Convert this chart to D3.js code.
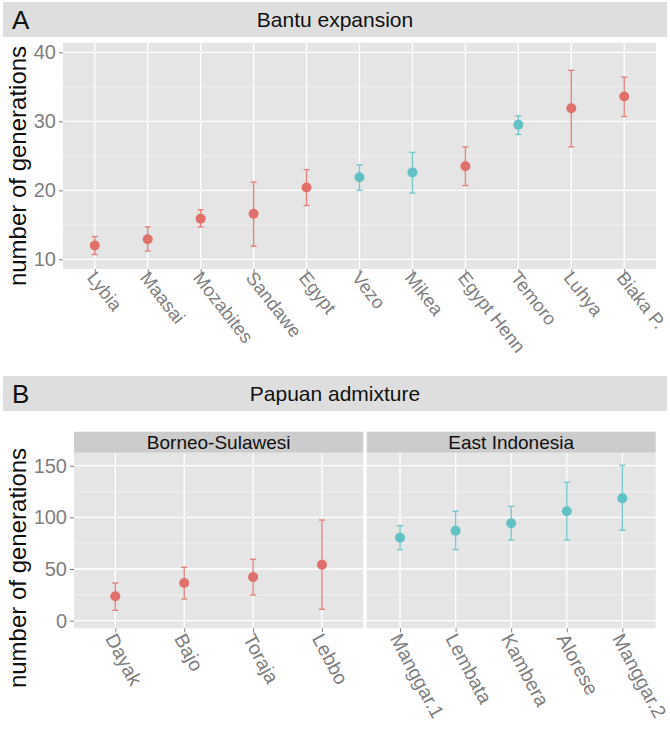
<!DOCTYPE html>
<html>
<head>
<meta charset="utf-8">
<script src="https://cdn.jsdelivr.net/npm/d3@7"></script>
<style>
  body { margin: 0; background: #fff; }
  svg { display: block; font-family: "Liberation Sans", Arial, sans-serif; }
  .tick text { fill: #7f7f7f; }
  .tick line { stroke: #7f7f7f; }
  .domain { display: none; }
</style>
</head>
<body>
<svg id="chart"></svg>
<script>
// Panel A: Bantu expansion
const bantuPops = ['Lybia', 'Maasai', 'Mozabites', 'Sandawe', 'Egypt', 'Vezo', 'Mikea', 'Egypt Henn', 'Temoro', 'Luhya', 'Biaka P.'];
const bantuMean = [12.0, 12.9, 15.9, 16.6, 20.4, 21.9, 22.6, 23.5, 29.5, 31.9, 33.6];
const bantuLow  = [10.7, 11.2, 14.7, 11.9, 17.8, 20.0, 19.6, 20.7, 28.1, 26.3, 30.7];
const bantuHigh = [13.3, 14.7, 17.2, 21.2, 23.0, 23.7, 25.5, 26.3, 30.8, 37.4, 36.4];
const bantuGroup = ['a', 'a', 'a', 'a', 'a', 'b', 'b', 'a', 'b', 'a', 'a'];
const bantuTicks = [10, 20, 30, 40];
const bantuMinor = [15, 25, 35];

// Panel B: Papuan admixture, two facets
const facetNames = ['Borneo-Sulawesi', 'East Indonesia'];
const borneoPops = ['Dayak', 'Bajo', 'Toraja', 'Lebbo'];
const borneoMean = [23.6, 36.5, 42.3, 54.2];
const borneoLow  = [10.0, 21.0, 24.9, 11.0];
const borneoHigh = [36.5, 51.7, 59.4, 97.4];
const eastPops = ['Manggar.1', 'Lembata', 'Kambera', 'Alorese', 'Manggar.2'];
const eastMean = [80.3, 87.1, 94.3, 105.9, 118.4];
const eastLow  = [68.7, 68.7, 78.1, 78.1, 87.5];
const eastHigh = [91.9, 105.9, 110.7, 133.9, 150.4];
const papuanTicks = [0, 50, 100, 150];
const papuanMinor = [25, 75, 125];

const W = 670, H = 733;
const colors = { a: '#e0716a', b: '#62c1c4' };

const svg = d3.select('#chart').attr('width', W).attr('height', H);

function rows(pops, mean, low, high, groups) {
  return pops.map((p, i) => ({ pop: p, mean: mean[i], low: low[i], high: high[i], group: groups[i] }));
}

// title strip ("A  Bantu expansion")
function titleStrip(y, letter, title) {
  svg.append('rect').attr('x', 3).attr('y', y).attr('width', 664).attr('height', 35).attr('fill', '#dedede');
  svg.append('text').attr('x', 12).attr('y', y + 27).attr('font-size', 26).attr('fill', '#111').text(letter);
  svg.append('text').attr('x', 335).attr('y', y + 25).attr('text-anchor', 'middle')
    .attr('font-size', 21).attr('fill', '#111').text(title);
}

// one panel: background, grid, error bars, points, x axis
function panel(data, x, y, minor, major, showY, lab) {
  const [x0, x1] = x.range();
  const [y0, y1] = y.range();
  const g = svg.append('g');
  g.append('rect').attr('x', x0).attr('y', y1).attr('width', x1 - x0).attr('height', y0 - y1).attr('fill', '#e5e5e5');
  g.selectAll('.minor').data(minor).join('line').attr('class', 'minor')
    .attr('x1', x0).attr('x2', x1).attr('y1', d => y(d)).attr('y2', d => y(d))
    .attr('stroke', '#f2f2f2').attr('stroke-width', 0.8);
  g.selectAll('.major').data(major).join('line').attr('class', 'major')
    .attr('x1', x0).attr('x2', x1).attr('y1', d => y(d)).attr('y2', d => y(d))
    .attr('stroke', '#fff').attr('stroke-width', 1.3);
  g.selectAll('.vgrid').data(x.domain()).join('line').attr('class', 'vgrid')
    .attr('x1', d => x(d)).attr('x2', d => x(d)).attr('y1', y1).attr('y2', y0)
    .attr('stroke', '#fff').attr('stroke-width', 1.3);

  const bars = g.selectAll('.err').data(data).join('g').attr('class', 'err')
    .attr('stroke', d => colors[d.group]).attr('stroke-width', 1.4).attr('opacity', 0.85);
  bars.append('line').attr('x1', d => x(d.pop)).attr('x2', d => x(d.pop))
    .attr('y1', d => y(d.low)).attr('y2', d => y(d.high));
  bars.append('line').attr('x1', d => x(d.pop) - 3).attr('x2', d => x(d.pop) + 3)
    .attr('y1', d => y(d.low)).attr('y2', d => y(d.low));
  bars.append('line').attr('x1', d => x(d.pop) - 3).attr('x2', d => x(d.pop) + 3)
    .attr('y1', d => y(d.high)).attr('y2', d => y(d.high));
  g.selectAll('.pt').data(data).join('circle').attr('class', 'pt')
    .attr('cx', d => x(d.pop)).attr('cy', d => y(d.mean)).attr('r', 5)
    .attr('fill', d => colors[d.group]);

  const xAxis = g.append('g').attr('transform', `translate(0,${y0})`)
    .call(d3.axisBottom(x).tickSize(4).tickFormat(''));
  xAxis.selectAll('.tick').append('text')
    .attr('text-anchor', 'start')
    .attr('font-size', lab.size)
    .attr('transform', `translate(${lab.dx},${lab.dy}) rotate(${lab.angle})`)
    .text(d => d);

  if (showY) {
    g.append('g').attr('transform', `translate(${x0},0)`)
      .call(d3.axisLeft(y).tickValues(major).tickSize(4).tickPadding(3))
      .selectAll('text').attr('font-size', 20);
  }
}

function yTitle(cy) {
  svg.append('text').attr('transform', `translate(26,${cy}) rotate(-90)`)
    .attr('text-anchor', 'middle').attr('font-size', 24).attr('fill', '#111')
    .text('number of generations');
}

// ---- Panel A
titleStrip(2, 'A', 'Bantu expansion');
const xA = d3.scalePoint().domain(bantuPops).range([63, 656]).padding(0.6);
const yA = d3.scaleLinear().domain([8.6, 41.4]).range([269, 42.7]);
panel(rows(bantuPops, bantuMean, bantuLow, bantuHigh, bantuGroup), xA, yA, bantuMinor, bantuTicks, true,
  { size: 18.5, angle: 52, dx: -9, dy: 9 });
yTitle(166);

// ---- Panel B
titleStrip(376, 'B', 'Papuan admixture');
const yB = d3.scaleLinear().domain([-7.4, 162.6]).range([628.3, 452.7]);
const xB1 = d3.scalePoint().domain(borneoPops).range([74, 363.3]).padding(0.6);
const xB2 = d3.scalePoint().domain(eastPops).range([366.7, 655.7]).padding(0.6);
const labB = { size: 19.5, angle: 62, dx: -11, dy: 10 };
panel(rows(borneoPops, borneoMean, borneoLow, borneoHigh, borneoPops.map(() => 'a')), xB1, yB, papuanMinor, papuanTicks, true, labB);
panel(rows(eastPops, eastMean, eastLow, eastHigh, eastPops.map(() => 'b')), xB2, yB, papuanMinor, papuanTicks, false, labB);

// facet strips
[xB1, xB2].forEach((x, i) => {
  const [a, b] = x.range();
  svg.append('rect').attr('x', a).attr('y', 431.7).attr('width', b - a).attr('height', 21).attr('fill', '#cccccc');
  svg.append('text').attr('x', (a + b) / 2).attr('y', 449).attr('text-anchor', 'middle')
    .attr('font-size', 19).attr('fill', '#111').text(facetNames[i]);
});
yTitle(568);
</script>
</body>
</html>
